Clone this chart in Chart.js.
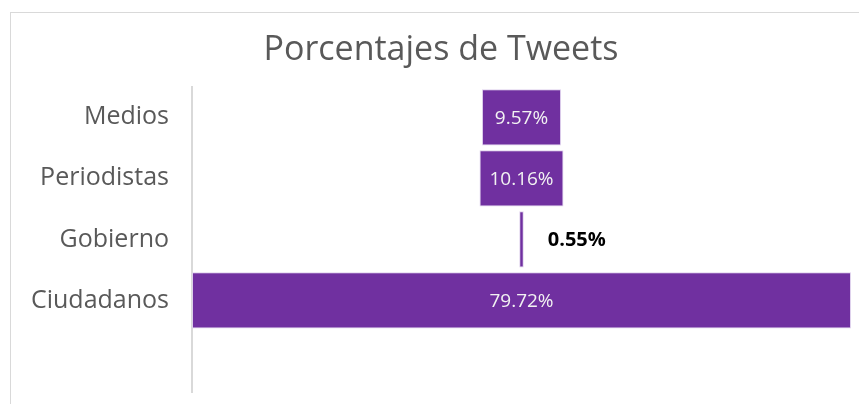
<!DOCTYPE html>
<html>
<head>
<meta charset="utf-8">
<script src="https://cdn.jsdelivr.net/npm/chart.js@4"></script>
<style>
  html, body { margin: 0; padding: 0; background: #fff; overflow: hidden; font-family: "Open Sans"; }
  #frame { position: absolute; left: 10px; top: 12px; width: 900px; height: 420px; border: 1px solid #d9d9d9; }
  #wrap { position: absolute; left: 0; top: 0; width: 859px; height: 404px; }
</style>
</head>
<body>
<div id="frame"></div>
<div id="wrap"><canvas id="myChart"></canvas></div>
<script>
// data
const categories = ['Medios', 'Periodistas', 'Gobierno', 'Ciudadanos', ''];
const percentages = [9.57, 10.16, 0.55, 79.72];

// funnel: every bar is centred on the middle of the widest one
const maxValue = Math.max(...percentages);
const middle = maxValue / 2;
const funnelData = percentages.map(v => [middle - v / 2, middle + v / 2]);

// labels drawn on / beside the bars
const barLabels = {
  id: 'barLabels',
  afterDatasetsDraw(chart) {
    const ctx = chart.ctx;
    const meta = chart.getDatasetMeta(0);
    ctx.save();
    ctx.textBaseline = 'middle';
    meta.data.forEach((bar, i) => {
      const v = percentages[i];
      const txt = v.toFixed(2) + '%';
      const left = Math.min(bar.x, bar.base);
      const right = Math.max(bar.x, bar.base);
      if (right - left > 40) {
        ctx.font = '19px "Open Sans"';
        ctx.fillStyle = '#f2f2f2';
        ctx.textAlign = 'center';
        ctx.fillText(txt, (left + right) / 2, bar.y + 1);
      } else {
        ctx.font = 'bold 20px "Open Sans"';
        ctx.fillStyle = '#000';
        ctx.textAlign = 'left';
        ctx.fillText(txt, right + 24, bar.y + 1);
      }
    });
    ctx.restore();
  }
};

const data = {
  labels: categories,
  datasets: [{
    label: 'Porcentajes de Tweets',
    data: funnelData,
    backgroundColor: '#7030a0',
    borderColor: 'rgba(220,205,235,0.9)',
    borderWidth: 1,
    borderSkipped: false,
    categoryPercentage: 1,
    barPercentage: 0.92
  }]
};

const config = {
  type: 'bar',
  data,
  options: {
    indexAxis: 'y',
    responsive: false,
    animation: false,
    layout: { padding: { left: 31, right: 8, top: 0, bottom: 12 } },
    plugins: {
      legend: { display: false },
      tooltip: { enabled: false },
      title: {
        display: true,
        text: 'Porcentajes de Tweets',
        color: '#595959',
        font: { family: 'Open Sans', size: 34, weight: 'normal', lineHeight: 1.2 },
        padding: { top: 30, bottom: 16 }
      }
    },
    scales: {
      x: {
        display: false,
        min: 0,
        max: maxValue
      },
      y: {
        grid: { display: false, drawTicks: false },
        border: { display: true, color: '#d9d9d9', width: 2 },
        ticks: {
          color: '#595959',
          font: { family: 'Open Sans', size: 25 },
          padding: 23
        },
        afterFit(scale) {
          scale.width = 161;
          scale.paddingTop = 0;
          scale.paddingBottom = 0;
        }
      }
    }
  },
  plugins: [barLabels]
};

const canvas = document.getElementById('myChart');
canvas.width = 859;
canvas.height = 404;
Promise.all([
  document.fonts.load('25px "Open Sans"'),
  document.fonts.load('bold 20px "Open Sans"')
]).catch(() => {}).then(() => {
  const myChart = new Chart(canvas, config);
});
</script>
</body>
</html>
